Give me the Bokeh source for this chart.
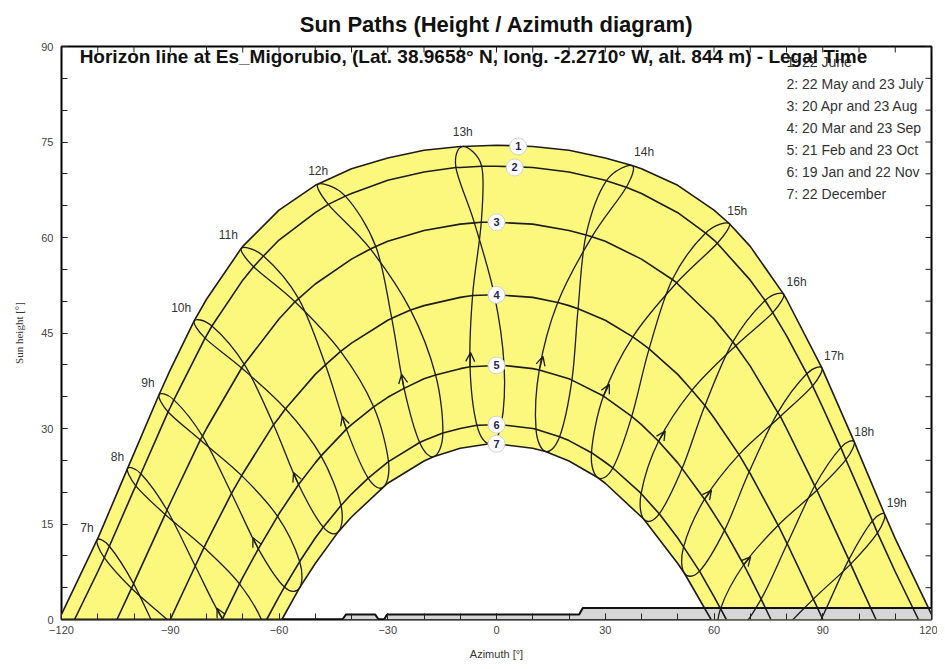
import math
from bokeh.plotting import figure
from bokeh.models import Range1d, FixedTicker, Arrow, OpenHead, ColumnDataSource
from bokeh.core.properties import value
from bokeh.embed import file_html
from bokeh.resources import INLINE

HOURS = list(range(7, 20))
HOUR_LABELS = [f"{h}h" for h in HOURS]

# sun path for each declination curve (azimuth deg, height deg)
CURVE1_AZ = [-120, -110, -100, -90, -80, -70, -60, -50, -40, -30, -20, -10, 0, 10, 20, 30, 40, 50, 60, 70, 80, 90, 100, 110, 120]
CURVE1_H = [0.8, 12.7, 26.1, 39.2, 50.3, 58.6, 64.3, 68.2, 70.8, 72.5, 73.7, 74.3, 74.5, 74.3, 73.7, 72.5, 70.8, 68.2, 64.3, 58.6, 50.3, 39.2, 26.1, 12.7, 0.8]
CURVE2_AZ = [-116.4, -110, -100, -90, -80, -70, -60, -50, -40, -30, -20, -10, 0, 10, 20, 30, 40, 50, 60, 70, 80, 90, 100, 110, 116.4]
CURVE2_H = [0, 7.5, 20.4, 33.3, 44.6, 53.3, 59.6, 63.9, 66.9, 69.0, 70.3, 71.0, 71.2, 71.0, 70.3, 69.0, 66.9, 63.9, 59.6, 53.3, 44.6, 33.3, 20.4, 7.5, 0]
CURVE3_AZ = [-104.7, -100, -90, -80, -70, -60, -50, -40, -30, -20, -10, 0, 10, 20, 30, 40, 50, 60, 70, 80, 90, 100, 104.7]
CURVE3_H = [0, 5.8, 18.3, 30.0, 39.8, 47.2, 52.7, 56.6, 59.4, 61.1, 62.1, 62.4, 62.1, 61.1, 59.4, 56.6, 52.7, 47.2, 39.8, 30.0, 18.3, 5.8, 0]
CURVE4_AZ = [-90, -80, -70, -60, -50, -40, -30, -20, -10, 0, 10, 20, 30, 40, 50, 60, 70, 80, 90]
CURVE4_H = [0, 12.1, 22.9, 31.7, 38.5, 43.4, 47.0, 49.3, 50.6, 51.0, 50.6, 49.3, 47.0, 43.4, 38.5, 31.7, 22.9, 12.1, 0]
CURVE5_AZ = [-75.7, -70, -60, -50, -40, -30, -20, -10, 0, 10, 20, 30, 40, 50, 60, 70, 75.7]
CURVE5_H = [0, 6.6, 16.6, 24.6, 30.6, 34.9, 37.8, 39.4, 39.9, 39.4, 37.8, 34.9, 30.6, 24.6, 16.6, 6.6, 0]
CURVE6_AZ = [-63.4, -60, -50, -40, -30, -20, -10, 0, 10, 20, 30, 40, 50, 60, 63.4]
CURVE6_H = [0, 3.6, 12.8, 19.7, 24.7, 28.1, 30.0, 30.6, 30.0, 28.1, 24.7, 19.7, 12.8, 3.6, 0]
CURVE7_AZ = [-59.2, -50, -40, -30, -20, -10, 0, 10, 20, 30, 40, 50, 59.2]
CURVE7_H = [0, 8.8, 16.1, 21.4, 24.9, 26.9, 27.6, 26.9, 24.9, 21.4, 16.1, 8.8, 0]

# sun position at each legal hour 7h..19h for every date
JUN22_AZ = [-110.2, -101.8, -93.1, -83.4, -70.4, -49.2, -9.3, 37.4, 64.2, 79.2, 89.8, 98.7, 107.1]
JUN22_H = [12.5, 23.7, 35.3, 46.9, 58.3, 68.4, 74.3, 71.3, 62.2, 51.1, 39.5, 27.9, 16.5]
MAY22_AZ = [-106.8, -98.1, -89.0, -78.5, -64.3, -41.7, -4.1, 35.8, 60.9, 76.2, 87.2, 96.4, 105.1]
MAY22_H = [11.5, 22.9, 34.5, 46.1, 57.1, 66.5, 71.2, 67.9, 59.1, 48.2, 36.7, 25.1, 13.6]
JUL23_AZ = [-108.2, -99.5, -90.6, -80.4, -67.0, -46.4, -11.2, 30.3, 57.7, 74.1, 85.6, 95.0, 103.7]
JUL23_H = [9.7, 21.0, 32.6, 44.2, 55.4, 65.2, 71.0, 68.9, 60.7, 50.1, 38.6, 27.0, 15.5]
APR20_AZ = [-100.1, -90.9, -81.1, -69.6, -54.6, -33.3, -4.2, 26.3, 49.7, 66.0, 78.3, 88.4, 97.7]
APR20_H = [5.6, 17.2, 28.8, 40.1, 50.4, 58.6, 62.4, 60.1, 52.9, 43.0, 31.9, 20.3, 8.7]
AUG23_AZ = [-100.7, -91.4, -81.7, -70.3, -55.6, -34.8, -6.1, 24.7, 48.5, 65.2, 77.6, 87.8, 97.2]
AUG23_H = [4.9, 16.5, 28.2, 39.5, 49.9, 58.2, 62.3, 60.4, 53.4, 43.6, 32.5, 21.0, 9.4]
MAR20_AZ = [-92.6, -83.1, -73.1, -61.5, -47.2, -28.9, -6.6, 16.9, 37.6, 53.9, 66.9, 77.7, 87.4]
MAR20_H = [-3.2, 8.4, 19.8, 30.6, 40.0, 47.3, 50.9, 49.8, 44.4, 36.0, 25.9, 14.8, 3.2]
SEP23_AZ = [-90.3, -80.7, -70.3, -58.2, -43.0, -23.7, -0.6, 22.5, 42.1, 57.5, 69.7, 80.2, 89.8]
SEP23_H = [-0.3, 11.3, 22.6, 33.1, 42.1, 48.6, 51.0, 48.8, 42.5, 33.6, 23.2, 11.9, 0.3]
FEB21_AZ = [-84.8, -75.6, -65.7, -54.6, -41.4, -25.5, -7.3, 11.8, 29.5, 44.7, 57.4, 68.2, 77.8]
FEB21_H = [-11.4, 0.1, 11.1, 21.2, 29.9, 36.3, 39.7, 39.2, 35.1, 28.0, 18.9, 8.6, -2.6]
OCT23_AZ = [-80.3, -70.9, -60.4, -48.4, -33.9, -16.8, 2.1, 20.8, 37.3, 51.2, 62.9, 73.0, 82.4]
OCT23_H = [-5.7, 5.6, 16.2, 25.7, 33.4, 38.4, 39.9, 37.6, 31.9, 23.7, 14.0, 3.2, -8.2]
JAN19_AZ = [-76.7, -67.9, -58.5, -47.8, -35.4, -21.2, -5.4, 10.9, 26.2, 39.9, 51.6, 61.8, 71.0]
JAN19_H = [-16.4, -5.3, 5.1, 14.5, 22.2, 27.8, 30.5, 29.9, 26.2, 19.8, 11.4, 1.7, -9.0]
NOV22_AZ = [-73.2, -64.2, -54.3, -42.9, -29.8, -14.8, 1.3, 17.4, 32.1, 44.9, 56.0, 65.7, 74.6]
NOV22_H = [-11.7, -0.9, 9.1, 17.9, 24.8, 29.3, 30.6, 28.7, 23.8, 16.6, 7.6, -2.6, -13.6]
DEC22_AZ = [-72.4, -63.8, -54.3, -43.6, -31.2, -17.2, -1.9, 13.5, 27.9, 40.7, 51.8, 61.5, 70.3]
DEC22_H = [-15.9, -5.1, 5.0, 13.8, 20.8, 25.6, 27.6, 26.4, 22.3, 15.7, 7.3, -2.5, -13.1]

HORIZON_AZ = [-120, -42.5, -41.5, -33.5, -32.5, -31.0, -30.2, 22.8, 23.8, 120]
HORIZON_H = [0, 0, 0.8, 0.8, 0, 0, 0.8, 0.8, 1.8, 1.8]

CURVE_IDS = ["1", "2", "3", "4", "5", "6", "7"]
CURVE_LABEL_AZ = [6, 5, 0, 0, 0, 0, 0]
CURVE_LABEL_H = [74.3, 71.0, 62.4, 51.0, 39.9, 30.6, 27.6]

LEGEND = ["1: 22 June", "2: 22 May and 23 July", "3: 20 Apr and 23 Aug", "4: 20 Mar and 23 Sep",
          "5: 21 Feb and 23 Oct", "6: 19 Jan and 22 Nov", "7: 22 December"]

X_TICKS = [-120, -90, -60, -30, 0, 30, 60, 90, 120]
Y_TICKS = [0, 15, 30, 45, 60, 75, 90]
X_MINOR = list(range(-120, 121, 10))
Y_MINOR = list(range(0, 91, 5))

TITLE = "Sun Paths (Height / Azimuth diagram)"
SUBTITLE = "Horizon line at Es_Migorubio, (Lat. 38.9658\u00b0 N, long. -2.2710\u00b0 W, alt. 844 m) - Legal Time"

FONT = "Liberation Sans"
LINE = "#1c1c1c"


def merged(grid_az, grid_h, *dates):
    pts = list(zip(grid_az, grid_h))
    for az, h in dates:
        pts += [(a, b) for a, b in zip(az, h) if b > 0]
    pts.sort()
    return [a for a, _ in pts], [b for _, b in pts]


curves = [
    merged(CURVE1_AZ, CURVE1_H, (JUN22_AZ, JUN22_H)),
    merged(CURVE2_AZ, CURVE2_H, (MAY22_AZ, MAY22_H), (JUL23_AZ, JUL23_H)),
    merged(CURVE3_AZ, CURVE3_H, (APR20_AZ, APR20_H), (AUG23_AZ, AUG23_H)),
    merged(CURVE4_AZ, CURVE4_H, (MAR20_AZ, MAR20_H), (SEP23_AZ, SEP23_H)),
    merged(CURVE5_AZ, CURVE5_H, (FEB21_AZ, FEB21_H), (OCT23_AZ, OCT23_H)),
    merged(CURVE6_AZ, CURVE6_H, (JAN19_AZ, JAN19_H), (NOV22_AZ, NOV22_H)),
    merged(CURVE7_AZ, CURVE7_H, (DEC22_AZ, DEC22_H)),
]

# yearly order of the dates along each hour loop (closed)
loop_seq = [(JUN22_AZ, JUN22_H), (MAY22_AZ, MAY22_H), (APR20_AZ, APR20_H), (MAR20_AZ, MAR20_H),
            (FEB21_AZ, FEB21_H), (JAN19_AZ, JAN19_H), (DEC22_AZ, DEC22_H), (NOV22_AZ, NOV22_H),
            (OCT23_AZ, OCT23_H), (SEP23_AZ, SEP23_H), (AUG23_AZ, AUG23_H), (JUL23_AZ, JUL23_H)]

# smooth closed curve (Catmull-Rom as cubic Bezier segments) through the hour points
seg = {k: [] for k in ("x0", "y0", "x1", "y1", "cx0", "cy0", "cx1", "cy1")}
n = len(loop_seq)
for k in range(len(HOURS)):
    X = [d[0][k] for d in loop_seq]
    Y = [d[1][k] for d in loop_seq]
    for i in range(n):
        a, b, c, d = (i - 1) % n, i, (i + 1) % n, (i + 2) % n
        seg["x0"].append(X[b]); seg["y0"].append(Y[b])
        seg["x1"].append(X[c]); seg["y1"].append(Y[c])
        seg["cx0"].append(X[b] + (X[c] - X[a]) / 6); seg["cy0"].append(Y[b] + (Y[c] - Y[a]) / 6)
        seg["cx1"].append(X[c] - (X[d] - X[b]) / 6); seg["cy1"].append(Y[c] - (Y[d] - Y[b]) / 6)

p = figure(frame_width=870, frame_height=573, x_range=Range1d(-120, 120), y_range=Range1d(0, 90),
           output_backend="svg", toolbar_location=None,
           min_border_left=61, min_border_right=6, min_border_top=46, min_border_bottom=40,
           x_axis_label="Azimuth [\u00b0]", y_axis_label="Sun height [\u00b0]")
p.xgrid.visible = False
p.ygrid.visible = False
p.outline_line_color = "black"
p.outline_line_width = 2
p.background_fill_color = "white"

p.title.text = TITLE
p.title.align = "center"
p.title.text_font = FONT
p.title.text_font_size = "22px"
p.title.text_font_style = "bold"
p.title.text_color = "#111111"
p.title.standoff = 19

p.xaxis.ticker = FixedTicker(ticks=X_TICKS, minor_ticks=X_MINOR)
p.yaxis.ticker = FixedTicker(ticks=Y_TICKS, minor_ticks=Y_MINOR)
for ax in p.axis:
    ax.major_tick_in = 6
    ax.major_tick_out = 0
    ax.minor_tick_in = 6
    ax.minor_tick_out = 0
    ax.axis_line_color = None
    ax.major_tick_line_color = "#222222"
    ax.minor_tick_line_color = "#222222"
    ax.major_label_text_font = FONT
    ax.major_label_text_font_size = "11px"
    ax.major_label_text_color = "#444444"
    ax.axis_label_text_font_style = "normal"
    ax.axis_label_text_font_size = "11px"
    ax.axis_label_text_color = "#333333"
for ax in p.xaxis:
    ax.axis_label_text_font = FONT
    ax.major_label_standoff = 6
    ax.axis_label_standoff = 11
for ax in p.yaxis:
    ax.axis_label_text_font = "Liberation Serif"
    ax.major_label_standoff = 8
    ax.axis_label_standoff = 13

# inner ticks on the right and top frame sides
p.scatter([120] * len(Y_MINOR), Y_MINOR, marker="dash", size=12, line_color="#222222", line_width=1)
p.scatter(X_MINOR, [90] * len(X_MINOR), marker="dash", angle=math.pi / 2, size=12,
          line_color="#222222", line_width=1)

# yellow area between 22 June and 22 December paths
c1x, c1y = curves[0]
c7x, c7y = curves[6]
px = c1x + [c1x[-1]] + c7x[::-1] + [c1x[0]]
py = c1y + [0] + c7y[::-1] + [0]
p.patch(px, py, fill_color="#fcf87e", line_alpha=0)

# horizon
p.varea(x=HORIZON_AZ, y1=[0] * len(HORIZON_AZ), y2=HORIZON_H, fill_color="#d6d6d6")

# hour lines (analemma loops)
p.bezier(source=ColumnDataSource(seg), x0="x0", y0="y0", x1="x1", y1="y1",
         cx0="cx0", cy0="cy0", cx1="cx1", cy1="cy1", line_color=LINE, line_width=1.3)

# date curves
p.multi_line([c[0] for c in curves], [c[1] for c in curves], line_color=LINE, line_width=1.6)

p.line(HORIZON_AZ, HORIZON_H, line_color="#111111", line_width=2)

# direction arrows at 21 Feb points
ai = [k for k in range(len(HOURS)) if 8 <= HOURS[k] <= 18]
arr = ColumnDataSource(dict(
    x0=[FEB21_AZ[k] for k in ai], y0=[FEB21_H[k] for k in ai],
    x1=[FEB21_AZ[k] + 0.2 * (MAR20_AZ[k] - FEB21_AZ[k]) for k in ai],
    y1=[FEB21_H[k] + 0.2 * (MAR20_H[k] - FEB21_H[k]) for k in ai]))
p.add_layout(Arrow(source=arr, x_start="x0", y_start="y0", x_end="x1", y_end="y1",
                   line_color=LINE, line_width=1.2,
                   end=OpenHead(size=9, line_color=LINE, line_width=1.3)))

# curve number badges
p.scatter(CURVE_LABEL_AZ, CURVE_LABEL_H, marker="circle", size=17, fill_color="white",
          line_color="#d0d0d0", line_width=1)
p.text(CURVE_LABEL_AZ, CURVE_LABEL_H, text=CURVE_IDS, text_align="center", text_baseline="middle",
       text_font=value(FONT), text_font_size="11px", text_font_style="bold", text_color="#23235a")

# hour labels near 22 June points
HOUR_DX = [-10, -10, -11, -13, -13, 0, 0, 12, 8, 13, 12, 10, 12]
HOUR_DY = [-12, -12, -12, -13, -13, -13, -14, -14, -12, -12, -12, -10, -11]
p.text(JUN22_AZ, JUN22_H, text=HOUR_LABELS, x_offset=HOUR_DX, y_offset=HOUR_DY,
       text_align="center", text_baseline="middle", text_font=value(FONT),
       text_font_size="12px", text_color="#333333")

# legend of dates
p.text([80] * len(LEGEND), [87.5] * len(LEGEND), text=LEGEND,
       y_offset=[i * 21.9 for i in range(len(LEGEND))],
       text_align="left", text_baseline="middle", text_font=value(FONT),
       text_font_size="14px", text_color="#333333")

# subtitle
p.text([-115], [88.4], text=[SUBTITLE], text_align="left", text_baseline="middle",
       text_font=value(FONT), text_font_size="19px", text_font_style="bold", text_color="#111111")

open("out.html", "w").write(file_html(p, INLINE))
